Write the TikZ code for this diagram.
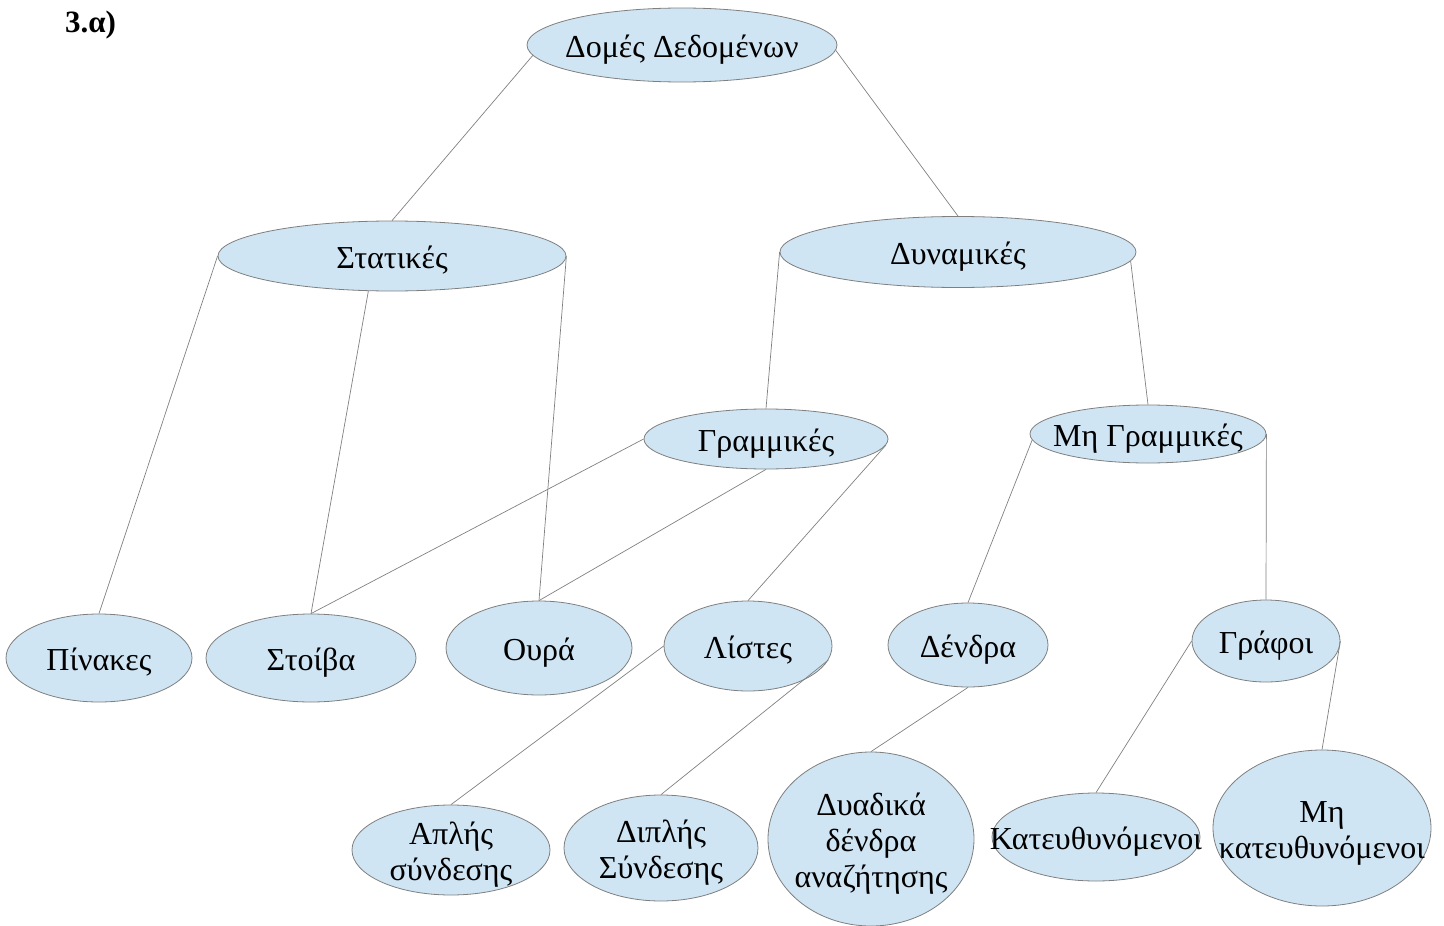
\documentclass[tikz,border=0pt]{standalone}
\usepackage{fontspec}
\setmainfont{Liberation Serif}
\usetikzlibrary{shapes.geometric}
\definecolor{bubble}{HTML}{CFE5F3}
\definecolor{rim}{HTML}{7F7F7F}
\definecolor{wire}{HTML}{808080}
% zero-size label box so that long words may run past the ellipse rim
\newcommand{\lbl}[1]{\makebox[0pt]{\raisebox{-12pt}[0pt][0pt]{\begin{tabular}{@{}c@{}}#1\end{tabular}}}}
\tikzset{
  bub/.style n args={2}{ellipse, draw=rim, line width=0.8pt, fill=bubble,
    inner sep=0pt, minimum width=#1, minimum height=#2,
    font=\fontsize{32}{36}\selectfont},
  link/.style={draw=wire, line width=0.7pt}
}
\begin{document}
\begin{tikzpicture}[x=1pt,y=-1pt]
\useasboundingbox (0,0) rectangle (1444,926);
\node[anchor=base west, inner sep=0pt, font=\fontsize{31}{34}\selectfont\bfseries] (title) at (65,32) {3.α)};

\node[bub={310pt}{74pt}] (root) at (682,45) {\lbl{Δομές Δεδομένων}};
\node[bub={348pt}{70pt}] (stat) at (392,256) {\lbl{Στατικές}};
\node[bub={356pt}{71pt}] (dyn)  at (958,252) {\lbl{Δυναμικές}};
\node[bub={244pt}{60pt}] (lin)  at (766,439) {\lbl{Γραμμικές}};
\node[bub={236pt}{58pt}] (nlin) at (1148,434) {\lbl{Μη Γραμμικές}};
\node[bub={186pt}{88pt}] (pin)  at (99,658) {\lbl{Πίνακες}};
\node[bub={210pt}{88pt}] (stack) at (311,658) {\lbl{Στοίβα}};
\node[bub={186pt}{94pt}] (queue) at (539,648) {\lbl{Ουρά}};
\node[bub={168pt}{90pt}] (list) at (748,646) {\lbl{Λίστες}};
\node[bub={160pt}{84pt}] (tree) at (968,645) {\lbl{Δένδρα}};
\node[bub={148pt}{82pt}] (graph) at (1266,641) {\lbl{Γράφοι}};
\node[bub={198pt}{90pt}] (single) at (451,850) {\lbl{Απλής\\σύνδεσης}};
\node[bub={194pt}{106pt}] (double) at (661,848) {\lbl{Διπλής\\Σύνδεσης}};
\node[bub={206pt}{174pt}] (bst) at (871,839) {\lbl{Δυαδικά\\δένδρα\\αναζήτησης}};
\node[bub={208pt}{88pt}] (dir) at (1096,837) {\lbl{Κατευθυνόμενοι}};
\node[bub={218pt}{156pt}] (undir) at (1322,828) {\lbl{Μη\\κατευθυνόμενοι}};

\draw[link] (root.184) -- (stat.north);
\draw[link] (root.358) -- (dyn.north);
\draw[link] (stat.west) -- (pin.north);
\draw[link] (stat.236) -- (stack.north);
\draw[link] (stat.east) -- (queue.north);
\draw[link] (dyn.west) -- (lin.north);
\draw[link] (dyn.357) -- (nlin.north);
\draw[link] (lin.west) -- (stack.north);
\draw[link] (lin.south) -- (queue.north);
\draw[link] (lin.357) -- (list.north);
\draw[link] (nlin.183) -- (tree.north);
\draw[link] (nlin.east) -- (graph.north);
\draw[link] (list.west) -- (single.north);
\draw[link] (list.350) -- (double.north);
\draw[link] (tree.south) -- (bst.north);
\draw[link] (graph.west) -- (dir.north);
\draw[link] (graph.east) -- (undir.north);
\end{tikzpicture}
\end{document}
